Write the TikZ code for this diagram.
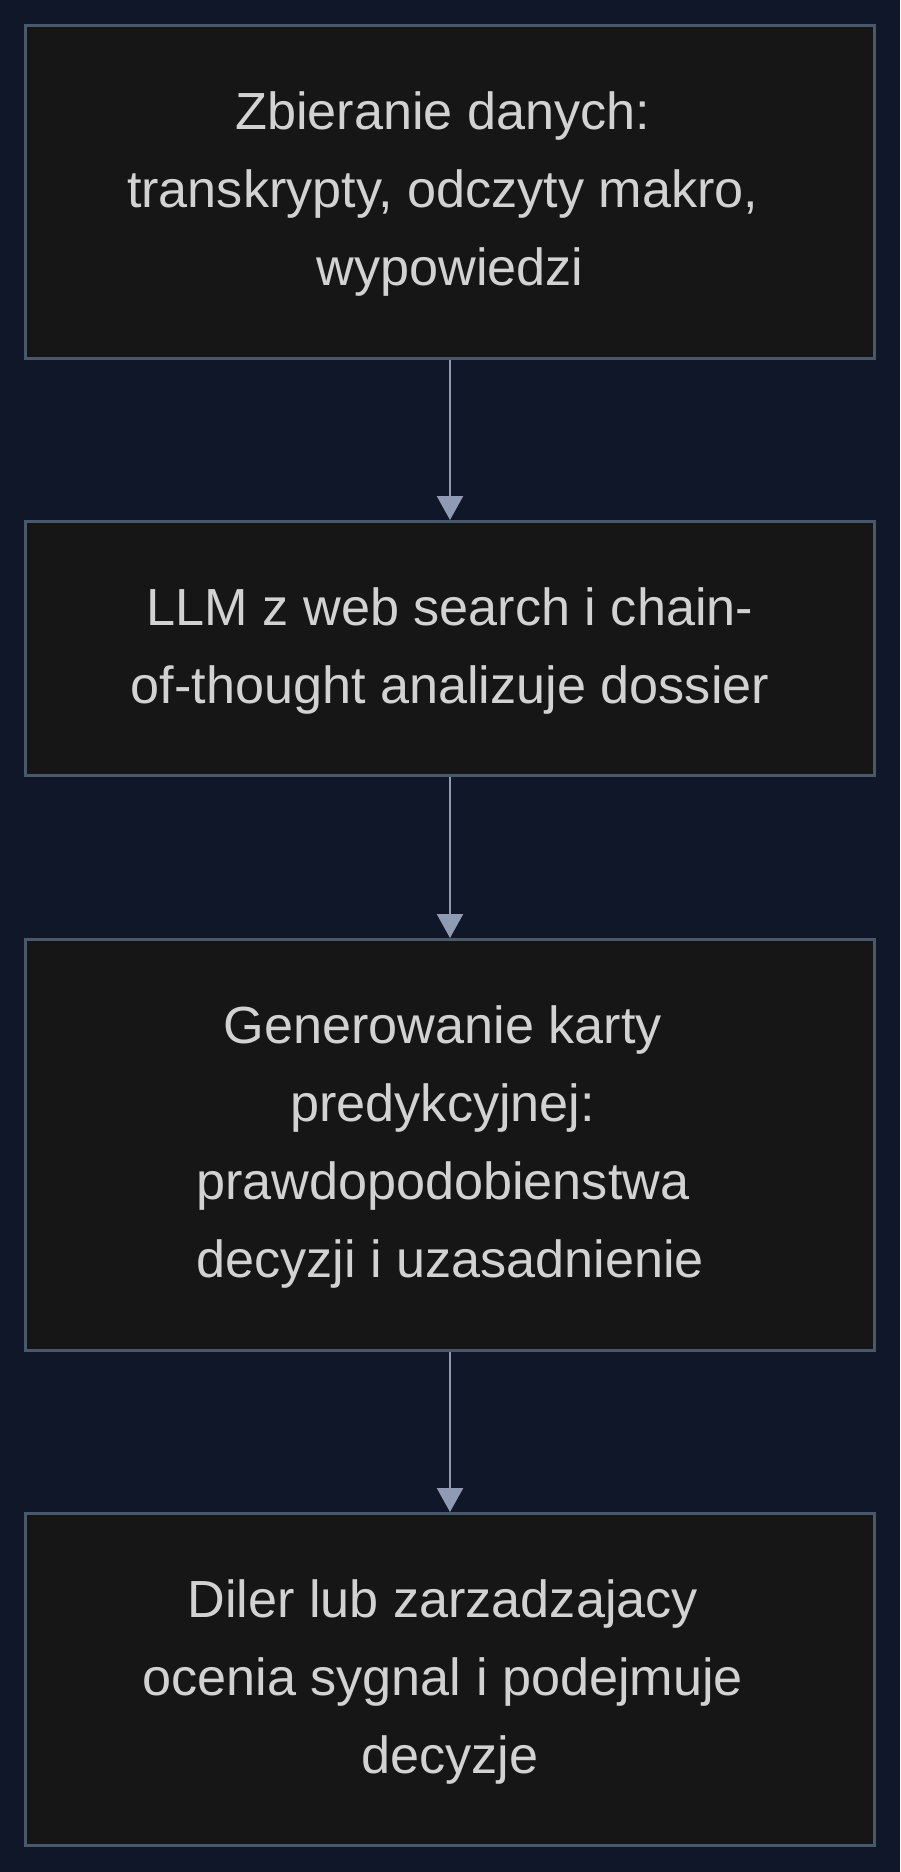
\documentclass[tikz,border=0pt]{standalone}
\usepackage{fontspec}
\setmainfont{Liberation Sans}
\usetikzlibrary{arrows.meta}
\definecolor{bgc}{HTML}{0F1729}
\definecolor{boxfill}{HTML}{161616}
\definecolor{boxline}{HTML}{4A586C}
\definecolor{arrowc}{HTML}{8E9BB2}
\definecolor{txtc}{HTML}{D2D2D2}
\newcommand{\trsp}{\rule{0.278em}{0pt}}
\begin{document}
\begin{tikzpicture}[x=1pt,y=-1pt,
  stepbox/.style={draw=boxline, line width=3pt, fill=boxfill, minimum width=849pt,
    text=txtc, font=\fontsize{52.2}{78}\selectfont, align=center, inner sep=0pt},
  flowarrow/.style={draw=arrowc, line width=2.5pt, -{Triangle[width=26pt,length=24pt]}}]
\fill[bgc] (0,0) rectangle (900,1872);
\useasboundingbox (0,0) rectangle (900,1872);
\node[stepbox, minimum height=333pt] (b1) at (450,192) {\strut Zbieranie danych:\trsp\\\strut transkrypty, odczyty makro,\trsp\\\strut wypowiedzi};
\node[stepbox, minimum height=254pt] (b2) at (450,648.5) {\strut LLM z web search i chain-\\\strut of-thought analizuje dossier};
\node[stepbox, minimum height=411pt] (b3) at (450,1145) {\strut Generowanie karty\trsp\\\strut predykcyjnej:\trsp\\\strut prawdopodobienstwa\trsp\\\strut decyzji i uzasadnienie};
\node[stepbox, minimum height=332pt] (b4) at (450,1679.5) {\strut Diler lub zarzadzajacy\trsp\\\strut ocenia sygnal i podejmuje\trsp\\\strut decyzje};
\draw[flowarrow] (b1.south) -- (b2.north);
\draw[flowarrow] (b2.south) -- (b3.north);
\draw[flowarrow] (b3.south) -- (b4.north);
\end{tikzpicture}
\end{document}
